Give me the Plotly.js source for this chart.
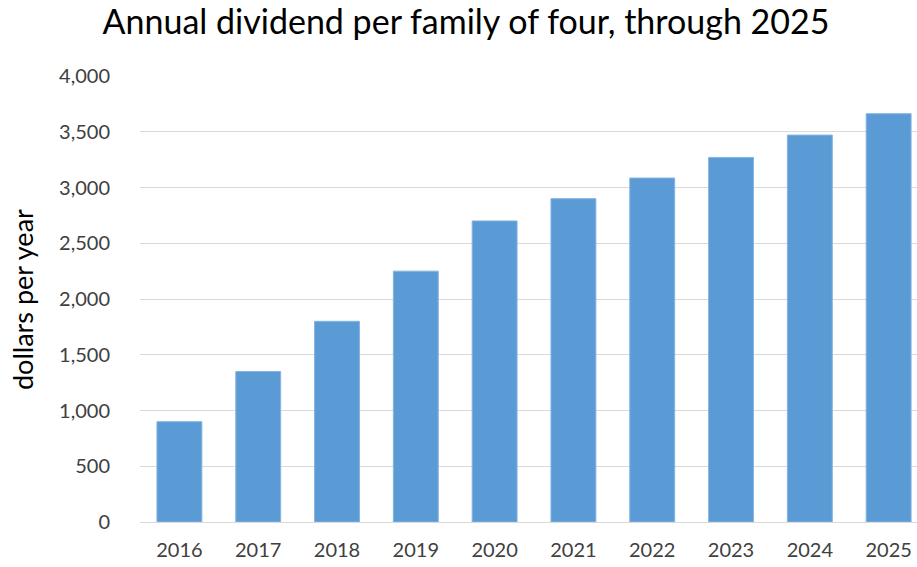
<!DOCTYPE html>
<html>
<head>
<meta charset="utf-8">
<script src="https://cdn.plot.ly/plotly-3.0.1.min.js"></script>
<style>html,body{margin:0;padding:0;background:#fff;overflow:hidden;}#chart{width:917px;height:567px;}</style>
</head>
<body>
<div id="chart"></div>
<script>
const years = ['2016','2017','2018','2019','2020','2021','2022','2023','2024','2025'];
const dividends = [900, 1350, 1800, 2250, 2700, 2900, 3085, 3270, 3470, 3662];
const yTickValues = [0, 500, 1000, 1500, 2000, 2500, 3000, 3500, 4000];
const chartTitle = 'Annual dividend per family of four, through 2025';
const yAxisTitle = 'dollars per year';

const trace = {
  type: 'bar',
  x: years,
  y: dividends,
  marker: {color: '#5B9BD5', line: {color: '#86B4E2', width: 1}},
  hoverinfo: 'x+y'
};

const layout = {
  width: 917,
  height: 567,
  margin: {l: 140, r: 0, t: 76, b: 45, pad: 0},
  paper_bgcolor: '#ffffff',
  plot_bgcolor: '#ffffff',
  bargap: 0.43,
  showlegend: false,
  font: {family: 'Lato, "Open Sans", sans-serif', color: '#404040'},
  title: {
    text: chartTitle,
    font: {family: 'Lato, "Open Sans", sans-serif', size: 34, color: '#000000'},
    x: 466/917, xanchor: 'center', xref: 'container',
    y: 1 - 22/567, yanchor: 'middle', yref: 'container'
  },
  xaxis: {
    type: 'category',
    range: [-0.5, 9.36],
    showgrid: false,
    zeroline: false,
    showline: false,
    ticks: '',
    tickfont: {size: 20, color: '#404040'},
    ticklabelstandoff: 14
  },
  yaxis: {
    range: [0, 4000],
    tickvals: yTickValues,
    tickformat: ',d',
    showgrid: true,
    gridcolor: '#D9D9D9',
    gridwidth: 1,
    zeroline: true,
    zerolinecolor: '#D9D9D9',
    zerolinewidth: 1,
    showline: false,
    ticks: '',
    tickfont: {size: 20, color: '#404040'},
    ticklabelstandoff: 29
  },
  annotations: [{
    text: yAxisTitle,
    textangle: -90,
    xref: 'paper', yref: 'paper',
    x: (22 - 140) / 777, y: 0.5,
    xanchor: 'center', yanchor: 'middle',
    showarrow: false,
    font: {size: 27, color: '#000000'}
  }]
};

Plotly.newPlot('chart', [trace], layout, {displayModeBar: false, staticPlot: true});
</script>
</body>
</html>
